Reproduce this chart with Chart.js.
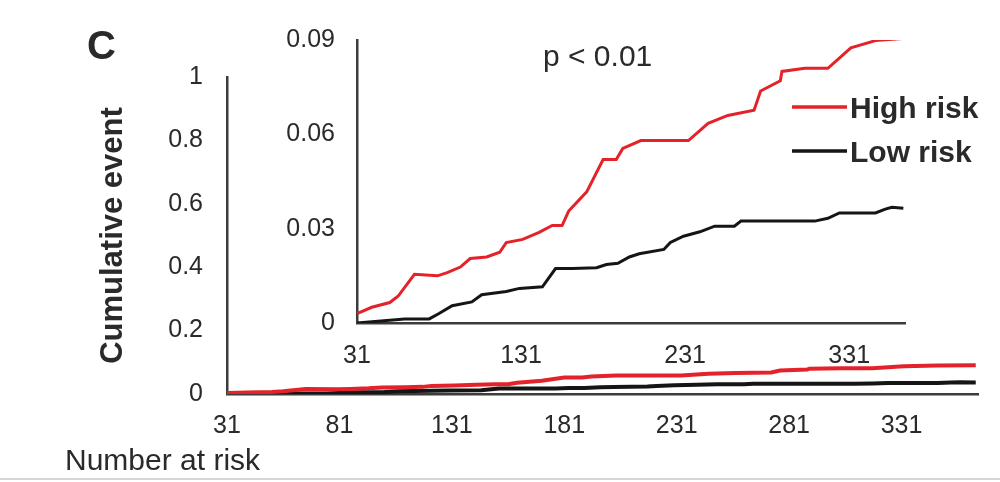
<!DOCTYPE html>
<html>
<head>
<meta charset="utf-8">
<script src="https://cdn.jsdelivr.net/npm/chart.js@4.4.0/dist/chart.umd.min.js"></script>
<style>
  html, body { margin: 0; padding: 0; background: #fff; }
  #wrap { position: relative; width: 1000px; height: 482px; overflow: hidden; }
  canvas { position: absolute; left: 0; top: 0; }
  #rule { position: absolute; left: 0; top: 478px; width: 1000px; height: 2px; background: #d6d6d6; }
</style>
</head>
<body>
<div id="wrap">
  <canvas id="main" width="1000" height="482"></canvas>
  <canvas id="inset" width="1000" height="482"></canvas>
  <div id="rule"></div>
</div>
<script>
// day, cumulative event
const highDays = [31, 40, 51, 56, 66, 80, 86, 94, 100, 110, 118, 122, 132, 142, 150, 156, 160, 171, 181, 189, 193, 204, 233, 245, 257, 273, 277, 289, 290, 304, 318, 332, 347, 364];
const highRisk = [0.003, 0.005, 0.0065, 0.0085, 0.0155, 0.015, 0.016, 0.0178, 0.0205, 0.021, 0.0225, 0.0256, 0.0266, 0.0288, 0.031, 0.031, 0.0356, 0.0417, 0.052, 0.052, 0.0555, 0.058, 0.058, 0.0635, 0.066, 0.0677, 0.0738, 0.077, 0.080, 0.081, 0.081, 0.0875, 0.0898, 0.0905];
const lowDays = [31, 60, 75, 81, 89, 101, 107, 122, 130, 144, 152, 162, 177, 183, 190, 197, 203, 218, 222, 230, 240, 249, 261, 265, 310, 318, 325, 347, 353, 357, 364];
const lowRisk = [0, 0.0013, 0.0013, 0.003, 0.0055, 0.0067, 0.009, 0.010, 0.011, 0.0115, 0.0173, 0.0173, 0.0176, 0.0186, 0.019, 0.021, 0.022, 0.0234, 0.0256, 0.0276, 0.029, 0.0308, 0.0308, 0.0324, 0.0324, 0.0333, 0.035, 0.035, 0.0362, 0.0368, 0.0365];

const seriesNames = ['High risk', 'Low risk'];
const mainXTicks = [31, 81, 131, 181, 231, 281, 331];
const mainYTicks = [0, 0.2, 0.4, 0.6, 0.8, 1];
const insetXTicks = [31, 131, 231, 331];
const insetYTicks = [0, 0.03, 0.06, 0.09];

const family = "'Liberation Sans', Arial, sans-serif";
const textColor = '#2a2a2a';
const axisColor = '#3c3c3c';
const red = '#e4222a';
const black = '#151515';

function toPoints(days, vals) {
  return days.map((d, i) => ({ x: d, y: vals[i] }));
}

function makeSets(width) {
  return [
    { label: seriesNames[0], data: toPoints(highDays, highRisk), borderColor: red, borderWidth: width },
    { label: seriesNames[1], data: toPoints(lowDays, lowRisk), borderColor: black, borderWidth: width }
  ];
}

// plain text notes drawn on the canvas
const notes = {
  id: 'notes',
  afterDraw(chart, args, opts) {
    const ctx = chart.ctx;
    ctx.save();
    ctx.textBaseline = 'alphabetic';
    (opts.items || []).forEach(t => {
      ctx.font = t.font;
      ctx.fillStyle = textColor;
      ctx.fillText(t.text, t.x, t.y);
    });
    ctx.restore();
  }
};

// legend with a short line before each label
const lineLegend = {
  id: 'lineLegend',
  afterDraw(chart, args, opts) {
    if (!opts.show) return;
    const ctx = chart.ctx;
    ctx.save();
    chart.data.datasets.forEach((ds, i) => {
      const y = opts.y + i * opts.gap;
      ctx.strokeStyle = ds.borderColor;
      ctx.lineWidth = 3.5;
      ctx.beginPath();
      ctx.moveTo(opts.x, y);
      ctx.lineTo(opts.x + opts.len, y);
      ctx.stroke();
      ctx.font = 'bold 30px ' + family;
      ctx.fillStyle = textColor;
      ctx.textBaseline = 'alphabetic';
      ctx.fillText(ds.label, opts.x + opts.len + 3, y + 11);
    });
    ctx.restore();
  }
};

function axes(o) {
  return {
    x: {
      type: 'linear', min: 31, max: 365,
      afterBuildTicks: s => { s.ticks = o.xTicks.map(v => ({ value: v })); },
      afterFit: s => { s.height = o.xHeight; },
      grid: { display: false, drawTicks: false },
      border: { display: true, color: axisColor, width: 2.5 },
      ticks: { padding: o.xPad, font: { family: family, size: 25 }, color: textColor, maxRotation: 0, autoSkip: false, callback: v => String(v) }
    },
    y: {
      min: 0, max: o.yMax,
      afterBuildTicks: s => { s.ticks = o.yTicks.map(v => ({ value: v })); },
      afterFit: s => { s.width = o.yWidth; },
      grid: { display: false, drawTicks: false },
      border: { display: true, color: axisColor, width: 2.5 },
      title: o.title,
      ticks: { padding: o.yPad, font: { family: family, size: 25 }, color: textColor, autoSkip: false, callback: o.fmt }
    }
  };
}

new Chart(document.getElementById('main'), {
  type: 'line',
  data: { datasets: makeSets(4) },
  options: {
    responsive: false, animation: false, devicePixelRatio: 1,
    elements: { point: { radius: 0 }, line: { tension: 0 } },
    layout: { padding: { left: 0, top: 77, right: 22, bottom: 0 } },
    plugins: {
      legend: { display: false }, tooltip: { enabled: false },
      notes: { items: [
        { text: 'C', x: 87, y: 59, font: 'bold 40px ' + family },
        { text: 'Number at risk', x: 65, y: 470, font: '30px ' + family }
      ] }
    },
    scales: axes({
      xTicks: mainXTicks, yTicks: mainYTicks, yMax: 1,
      xHeight: 88, yWidth: 227, xPad: 17, yPad: 24,
      fmt: v => String(v),
      title: { display: true, text: 'Cumulative event', color: textColor, font: { family: family, size: 31, weight: 'bold' }, padding: { top: 95, bottom: 0 } }
    })
  },
  plugins: [notes]
});

new Chart(document.getElementById('inset'), {
  type: 'line',
  data: { datasets: makeSets(3) },
  options: {
    responsive: false, animation: false, devicePixelRatio: 1,
    elements: { point: { radius: 0 }, line: { tension: 0 } },
    layout: { padding: { left: 0, top: 40, right: 95, bottom: 0 } },
    plugins: {
      legend: { display: false }, tooltip: { enabled: false },
      notes: { items: [ { text: 'p < 0.01', x: 543, y: 66, font: '30px ' + family } ] },
      lineLegend: { show: true, x: 792, y: 107, gap: 44, len: 55 }
    },
    scales: axes({
      xTicks: insetXTicks, yTicks: insetYTicks, yMax: 0.09,
      xHeight: 159, yWidth: 357, xPad: 18, yPad: 22,
      fmt: v => v === 0 ? '0' : v.toFixed(2),
      title: { display: false }
    })
  },
  plugins: [notes, lineLegend]
});
</script>
</body>
</html>
